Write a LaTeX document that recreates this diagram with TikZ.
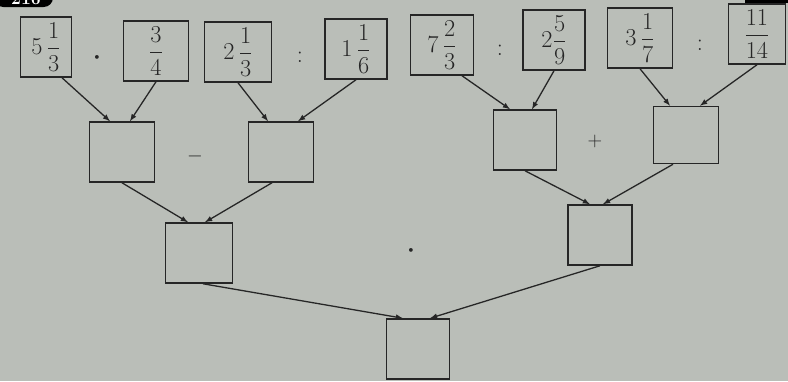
\documentclass[tikz,border=0pt]{standalone}
\usepackage{amsmath}
\definecolor{paper}{RGB}{186,190,184}
\definecolor{ink}{RGB}{38,38,38}
\begin{document}
\begin{tikzpicture}[x=0.03cm, y=-0.03cm,
    box/.style={draw=ink, line width=1.3pt, minimum width=1.95cm, minimum height=1.8cm,
                inner sep=0pt, text=ink, font=\fontsize{22}{26}\selectfont},
    op/.style={text=ink, font=\fontsize{22}{24}\selectfont, inner sep=0pt},
    arr/.style={-latex, draw=ink, line width=1.1pt}]

    \fill[paper] (0, 0) rectangle (788, 381);
    \useasboundingbox (0, 0) rectangle (788, 381);

    \fill[black, rounded corners=8pt] (-6, -20) rectangle (53, 7);
    \node[text=white, font=\bfseries\fontsize{15}{17}\selectfont, inner sep=0pt, anchor=base] (nr) at (26, 4) {216};
    \fill[black] (745, -2) rectangle (790, 3);

    % first row
    \node[box, minimum width=1.53cm] (a) at (46, 47) {$5\,\dfrac{1}{3}$};
    \node[box] (b) at (156, 51) {$\dfrac{3}{4}$};
    \node[box, minimum width=2cm] (c) at (238, 52) {$2\,\dfrac{1}{3}$};
    \node[box, minimum width=1.86cm] (d) at (356, 49) {$1\,\dfrac{1}{6}$};
    \node[box, minimum width=1.89cm] (e) at (442, 45) {$7\,\dfrac{2}{3}$};
    \node[box, minimum width=1.86cm] (f) at (554, 40) {$2\dfrac{5}{9}$};
    \node[box] (g) at (640, 38) {$3\,\dfrac{1}{7}$};
    \node[box, minimum width=1.71cm] (h) at (757, 34) {$\dfrac{11}{14}$};

    \node[op] (o1) at (97, 58) {$\boldsymbol{\cdot}$};
    \node[op] (o2) at (300, 57) {$:$};
    \node[op] (o3) at (500, 50) {$:$};
    \node[op] (o4) at (700, 45) {$:$};

    % second row
    \node[box] (m1) at (122, 152) {};
    \node[box] (m2) at (281, 152) {};
    \node[box, minimum width=1.89cm] (m3) at (525, 140) {};
    \node[box, minimum height=1.71cm] (m4) at (686, 135) {};

    \node[op, font=\fontsize{17}{19}\selectfont] (o5) at (195, 156) {$-$};
    \node[op, font=\fontsize{17}{19}\selectfont] (o6) at (595, 141) {$+$};

    % third row
    \node[box, minimum width=2cm] (l1) at (199, 253) {};
    \node[box, minimum width=1.92cm] (l2) at (600, 235) {};
    \node[op] (o7) at (411, 251) {$\boldsymbol{\cdot}$};

    \node[box, minimum width=1.89cm] (r) at (418, 349) {};

    \draw[arr] ([xshift=0.48cm]a.south) -- ([xshift=-0.36cm]m1.north);
    \draw[arr] (b.south) -- ([xshift=0.24cm]m1.north);
    \draw[arr] (c.south) -- ([xshift=-0.39cm]m2.north);
    \draw[arr] (d.south) -- ([xshift=0.51cm]m2.north);
    \draw[arr] ([xshift=0.6cm]e.south) -- ([xshift=-0.45cm]m3.north);
    \draw[arr] (f.south) -- ([xshift=0.21cm]m3.north);
    \draw[arr] (g.south) -- ([xshift=-0.48cm]m4.north);
    \draw[arr] (h.south) -- ([xshift=0.42cm]m4.north);

    \draw[arr] (m1.south) -- ([xshift=-0.33cm]l1.north);
    \draw[arr] ([xshift=-0.27cm]m2.south) -- ([xshift=0.18cm]l1.north);
    \draw[arr] (m3.south) -- ([xshift=-0.3cm]l2.north);
    \draw[arr] ([xshift=-0.39cm]m4.south) -- ([xshift=0.09cm]l2.north);

    \draw[arr] ([xshift=0.12cm]l1.south) -- ([xshift=-0.45cm]r.north);
    \draw[arr] (l2.south) -- ([xshift=0.36cm]r.north);
\end{tikzpicture}
\end{document}
